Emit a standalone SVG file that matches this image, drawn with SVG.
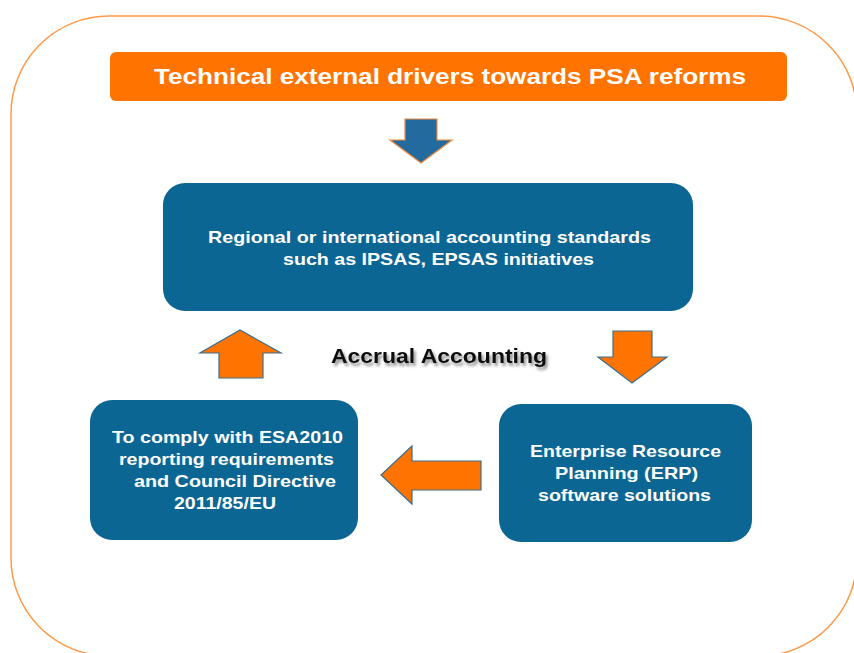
<svg xmlns="http://www.w3.org/2000/svg" width="854" height="653" viewBox="0 0 854 653">
  <defs>
    <style>
      .box { fill: #0b6694; }
      .btxt { font-family: "Liberation Sans", Arial, sans-serif; font-weight: bold; font-size: 17px; fill: #ffffff; text-anchor: middle; }
      .arr-o { fill: #ff7400; stroke: #3d6f8e; stroke-width: 1.2; stroke-linejoin: miter; }
      .arr-b { fill: #236b9f; stroke: #f08a3a; stroke-width: 1.2; }
    </style>
    <filter id="shadow" x="-10%" y="-30%" width="130%" height="180%">
      <feGaussianBlur in="SourceAlpha" stdDeviation="1.5"/>
      <feOffset dx="2" dy="3" result="b"/>
      <feComponentTransfer><feFuncA type="linear" slope="0.45"/></feComponentTransfer>
      <feMerge><feMergeNode/><feMergeNode in="SourceGraphic"/></feMerge>
    </filter>
  </defs>
  <rect width="854" height="653" fill="#ffffff"/>

  <!-- outer frame -->
  <rect x="11" y="16" width="846" height="640" rx="98" ry="98" fill="none" stroke="#ff9a4a" stroke-width="1.5"/>

  <!-- title -->
  <g id="title">
    <rect x="110" y="52" width="677" height="49" rx="6" fill="#ff7400"/>
    <text x="450" y="84" font-family="'Liberation Sans', Arial, sans-serif" font-weight="bold" font-size="22" fill="#ffffff" text-anchor="middle" textLength="592" lengthAdjust="spacingAndGlyphs">Technical external drivers towards PSA reforms</text>
  </g>

  <g id="standards">
    <rect class="box" x="163" y="183" width="530" height="128" rx="22"/>
    <text class="btxt" x="429.5" y="243" textLength="443" lengthAdjust="spacingAndGlyphs">Regional or international accounting standards</text>
    <text class="btxt" x="438.5" y="265" textLength="311" lengthAdjust="spacingAndGlyphs">such as IPSAS, EPSAS initiatives</text>
  </g>

  <g id="erp">
    <rect class="box" x="499" y="404" width="253" height="138" rx="22"/>
    <text class="btxt" x="625.5" y="457" textLength="191" lengthAdjust="spacingAndGlyphs">Enterprise Resource</text>
    <text class="btxt" x="626.5" y="479" textLength="143" lengthAdjust="spacingAndGlyphs">Planning (ERP)</text>
    <text class="btxt" x="624.5" y="501" textLength="173" lengthAdjust="spacingAndGlyphs">software solutions</text>
  </g>

  <g id="esa">
    <rect class="box" x="90" y="400" width="268" height="140" rx="22"/>
    <text class="btxt" x="227.5" y="443" textLength="231" lengthAdjust="spacingAndGlyphs">To comply with ESA2010</text>
    <text class="btxt" x="226.5" y="465" textLength="215" lengthAdjust="spacingAndGlyphs">reporting requirements</text>
    <text class="btxt" x="235" y="487" textLength="202" lengthAdjust="spacingAndGlyphs">and Council Directive</text>
    <text class="btxt" x="225" y="509" textLength="102" lengthAdjust="spacingAndGlyphs">2011/85/EU</text>
  </g>

  <g id="center-label">
    <text x="439" y="363" font-family="'Liberation Sans', Arial, sans-serif" font-weight="bold" font-size="21" fill="#111111" text-anchor="middle" textLength="216" lengthAdjust="spacingAndGlyphs" filter="url(#shadow)">Accrual Accounting</text>
  </g>

  <!-- connectors (block arrows) -->
  <g id="connectors">
    <polygon class="arr-b" points="405,119 437,119 437,140 452,140 421,163 390,140 405,140"/>
    <polygon class="arr-o" points="613,331 652,331 652,357 667,357 632,383 598,357 613,357"/>
    <polygon class="arr-o" points="481,461 481,490 412,490 412,504 381,475 412,446 412,461"/>
    <polygon class="arr-o" points="219,378 263,378 263,353 281,353 240,330 200,353 219,353"/>
  </g>
</svg>
